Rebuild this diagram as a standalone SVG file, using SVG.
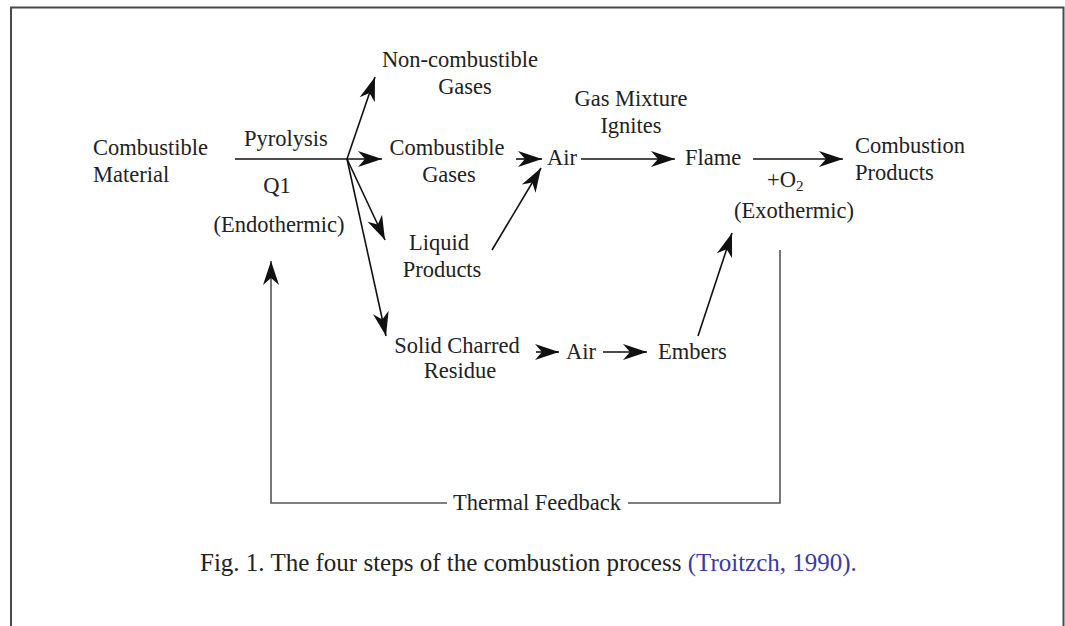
<svg xmlns="http://www.w3.org/2000/svg" width="1065" height="626" viewBox="0 0 1065 626">
<defs>
<style>
text{font-family:"Liberation Serif","Times New Roman",serif;font-size:22.5px;fill:#222}
.m{text-anchor:middle}
.c{stroke:#111;stroke-width:1.6;fill:none}
.a{marker-end:url(#ah)}
.fb{stroke:#555;stroke-width:1.6;fill:none}
.frame{stroke:#4a4a4a;stroke-width:2;fill:none}
.cap{font-size:25px}
.cite{fill:#3b3b9e}
</style>
<marker id="ah" markerUnits="userSpaceOnUse" viewBox="-24 -8 25 16" refX="0" refY="0" markerWidth="25" markerHeight="16" orient="auto" overflow="visible">
<path d="M0,0 L-24,-8 L-17,0 L-24,8 Z" fill="#111"/>
</marker>
</defs>
<rect width="1065" height="626" fill="#fff"/>
<path class="frame" d="M11,626 L11,7.5 L1063.5,7.5 L1063.5,626"/>
<g id="connectors">
<path class="c" d="M235,159 L347,159"/>
<path class="c a" d="M347,159 L382,159"/>
<path class="c a" d="M347,159 L375,77"/>
<path class="c a" d="M347,159 L385,240"/>
<path class="c a" d="M347,159 L386,336"/>
<path class="c a" d="M516,159 L542,159"/>
<path class="c a" d="M492,250 L541,168"/>
<path class="c a" d="M581,159 L675,159"/>
<path class="c a" d="M753,159 L843,159"/>
<path class="c a" d="M536,352 L559,352"/>
<path class="c a" d="M603,352 L647,352"/>
<path class="c a" d="M698,336 L732,233"/>
<path class="fb" d="M780,250 L780,503 L628,503"/>
<path class="fb a" d="M447,503 L271,503 L271,261"/>
</g>
<g id="combustible-material"><text x="93" y="155">Combustible</text><text x="93" y="182">Material</text></g>
<g id="pyrolysis"><text class="m" x="286" y="146">Pyrolysis</text><text class="m" x="277" y="193">Q1</text><text class="m" x="279" y="232">(Endothermic)</text></g>
<g id="non-combustible-gases"><text class="m" x="460" y="67">Non-combustible</text><text class="m" x="465" y="94">Gases</text></g>
<g id="combustible-gases"><text class="m" x="447" y="155">Combustible</text><text class="m" x="449" y="182">Gases</text></g>
<g id="liquid-products"><text class="m" x="439" y="250">Liquid</text><text class="m" x="442" y="277">Products</text></g>
<g id="solid-charred-residue"><text class="m" x="457" y="353">Solid Charred</text><text class="m" x="460" y="378">Residue</text></g>
<g id="air-1"><text x="547" y="165">Air</text></g>
<g id="ignites"><text class="m" x="631" y="106">Gas Mixture</text><text class="m" x="631" y="133">Ignites</text></g>
<g id="flame"><text x="685" y="165">Flame</text></g>
<g id="combustion-products"><text x="855" y="153">Combustion</text><text x="855" y="180">Products</text></g>
<g id="exothermic"><text x="767" y="187">+O<tspan font-size="15" dy="4">2</tspan></text><text class="m" x="794" y="218">(Exothermic)</text></g>
<g id="air-2"><text x="566" y="359">Air</text></g>
<g id="embers"><text x="658" y="359">Embers</text></g>
<g id="thermal-feedback"><text class="m" x="537" y="510">Thermal Feedback</text></g>
<g id="caption"><text class="cap" x="200" y="571">Fig. 1. The four steps of the combustion process <tspan class="cite">(Troitzch, 1990).</tspan></text></g>
</svg>
